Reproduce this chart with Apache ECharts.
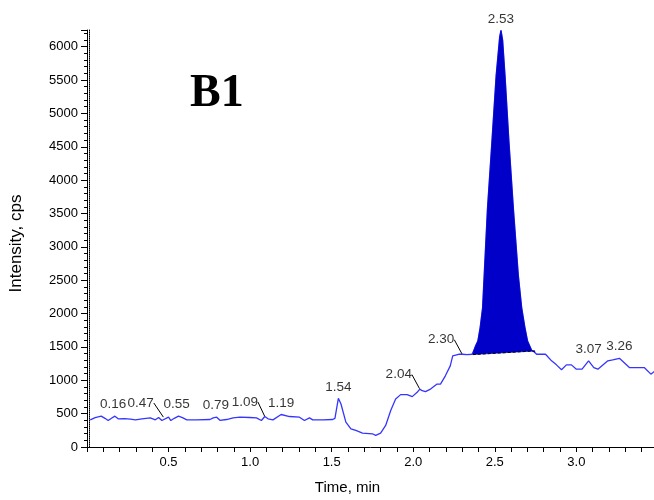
<!DOCTYPE html>
<html>
<head>
<meta charset="utf-8">
<script src="https://cdn.jsdelivr.net/npm/echarts@6/dist/echarts.min.js"></script>
<style>
html,body{margin:0;padding:0;background:#fff;}
#chart{width:654px;height:500px;}
</style>
</head>
<body>
<div id="chart"></div>
<script>
// ---- data ----
const traceTime = [
  0.02, 0.05, 0.087, 0.11, 0.13, 0.15, 0.171, 0.191, 0.23, 0.266, 0.297, 0.337, 0.388, 0.419, 0.439, 0.459,
  0.50, 0.514, 0.535, 0.561, 0.585, 0.612, 0.673, 0.683, 0.754, 0.774, 0.795, 0.815, 0.825, 0.855, 0.896,
  0.937, 0.998, 1.039, 1.069, 1.09, 1.11, 1.14, 1.19, 1.242, 1.303, 1.333, 1.364, 1.384, 1.445, 1.506,
  1.52, 1.541, 1.557, 1.587, 1.618, 1.648, 1.689, 1.75, 1.77, 1.80, 1.831, 1.862, 1.892, 1.923, 1.963,
  1.994, 2.024, 2.04, 2.055, 2.075, 2.106, 2.146, 2.167, 2.197, 2.227, 2.242, 2.278, 2.30, 2.33, 2.36,
  2.37, 2.383, 2.396, 2.41, 2.425, 2.435, 2.455, 2.482, 2.508, 2.53, 2.538, 2.548, 2.563, 2.587, 2.614,
  2.644, 2.665, 2.685, 2.701, 2.726, 2.744, 2.756, 2.811, 2.848, 2.878, 2.909, 2.939, 2.97, 3.0, 3.035,
  3.075, 3.107, 3.132, 3.193, 3.223, 3.264, 3.325, 3.416, 3.457, 3.478
];
const traceIntensity = [
  407, 440, 462, 430, 397, 430, 462, 422, 425, 417, 407, 422, 437, 407, 442, 397,
  447, 397, 430, 462, 440, 407, 407, 412, 412, 437, 447, 400, 387, 412, 437,
  447, 442, 437, 397, 457, 422, 407, 487, 457, 447, 397, 437, 407, 407, 412,
  430, 730, 645, 372, 273, 248, 208, 198, 174, 208, 323, 546, 720, 785, 785,
  755, 819, 868, 844, 829, 868, 943, 943, 1067, 1216, 1365, 1390, 1390, 1385, 1390,
  1439, 1520, 1588, 1787, 2084, 2580, 3573, 4566, 5558, 6150, 6243, 6100, 5558, 4566, 3573,
  2580, 2084, 1787, 1588, 1449, 1420, 1390, 1390, 1291, 1231, 1157, 1231, 1231, 1166, 1166,
  1291, 1191, 1166, 1291, 1306, 1330, 1191, 1191, 1092, 1132
];
// integration baseline of the 2.53 peak
const baselineTime = [2.365, 2.745];
const baselineIntensity = [1385, 1440];
// peak annotations
const peakLabels = ['0.16', '0.47', '0.55', '0.79', '1.09', '1.19', '1.54', '2.04', '2.30', '2.53', '3.07', '3.26'];
const peakLabelTime = [0.16, 0.47, 0.55, 0.79, 1.09, 1.19, 1.541, 2.04, 2.30, 2.538, 3.075, 3.264];
const peakLabelIntensity = [462, 442, 462, 447, 457, 487, 730, 868, 1390, 6243, 1291, 1330];

// ---- styling ----
const labelShift = { '0.47': [-23, -3], '1.09': [-20, -3], '2.04': [-21, -3], '2.30': [-21, -3] };
const FONT = '"Liberation Sans", Arial, sans-serif';

const traceData = traceTime.map((t, i) => [t, traceIntensity[i]]);
const peakPts = [[baselineTime[0], baselineIntensity[0]]]
  .concat(traceData.filter(p => p[0] > baselineTime[0] && p[0] < baselineTime[baselineTime.length - 1]))
  .concat([[baselineTime[baselineTime.length - 1], baselineIntensity[baselineIntensity.length - 1]]]);

const chart = echarts.init(document.getElementById('chart'), null, { renderer: 'canvas' });
chart.setOption({
  animation: false,
  backgroundColor: '#ffffff',
  grid: { left: 84, right: 0, top: 30, bottom: 50, containLabel: false },
  xAxis: {
    type: 'value', min: 0, max: 3.476, interval: 0.5,
    name: 'Time, min', nameLocation: 'middle', nameGap: 33,
    nameTextStyle: { fontFamily: FONT, fontSize: 15, color: '#000', padding: [0, 46, 0, 0] },
    axisLine: { show: true, onZero: false, lineStyle: { color: '#000', width: 1 } },
    axisTick: { show: true, length: 5, lineStyle: { color: '#000' } },
    minorTick: { show: true, splitNumber: 5, length: 5, lineStyle: { color: '#000' } },
    axisLabel: { fontFamily: FONT, fontSize: 13, color: '#000', margin: 9, showMinLabel: false, showMaxLabel: false,
      formatter: v => v.toFixed(1) },
    splitLine: { show: false }
  },
  yAxis: [{
    type: 'value', min: 0, max: 6250, interval: 500,
    name: 'Intensity, cps', nameLocation: 'middle', nameGap: 62,
    nameTextStyle: { fontFamily: FONT, fontSize: 17, color: '#000', padding: [0, 10, 0, 0] },
    axisLine: { show: true, lineStyle: { color: '#000', width: 1 } },
    axisTick: { show: true, length: 6, lineStyle: { color: '#000' } },
    minorTick: { show: true, splitNumber: 5, length: 3, lineStyle: { color: '#000' } },
    axisLabel: { fontFamily: FONT, fontSize: 13, color: '#000', margin: 9, showMaxLabel: false,
      formatter: v => String(v) },
    splitLine: { show: false }
  }, {
    type: 'value', min: 0, max: 6250, position: 'left', offset: -2,
    axisLine: { show: true, lineStyle: { color: '#000', width: 1, type: [1, 1] } },
    axisTick: { show: false }, axisLabel: { show: false }, splitLine: { show: false }
  }],
  series: [
    {
      type: 'line', data: traceData, showSymbol: false, symbol: 'none', z: 2,
      lineStyle: { color: '#3535ff', width: 1.3 }, silent: true
    },
    {
      type: 'custom', coordinateSystem: 'cartesian2d', data: [[2.5, 3000]], z: 3, silent: true,
      renderItem: (params, api) => ({
        type: 'polygon',
        shape: { points: peakPts.map(p => api.coord(p)) },
        style: { fill: '#0000c8', stroke: '#0000c8', lineWidth: 0.6 }
      })
    },
    {
      type: 'line', data: baselineTime.map((t, i) => [t, baselineIntensity[i]]), symbol: 'none', z: 4, silent: true,
      lineStyle: { color: '#000', width: 1, type: [3, 2] }
    },
    {
      type: 'scatter', z: 5, silent: true, symbolSize: 1, itemStyle: { color: 'rgba(0,0,0,0)' },
      data: peakLabelTime.map((t, i) => ({
        value: [t, peakLabelIntensity[i]], name: peakLabels[i],
        labelLine: { show: !!labelShift[peakLabels[i]] }
      })),
      label: { show: true, position: 'top', distance: 4, formatter: p => p.name,
        fontFamily: FONT, fontSize: 13.5, color: '#000' },
      labelLayout: params => {
        const s = labelShift[peakLabels[params.dataIndex]];
        return s ? { dx: s[0], dy: s[1] } : {};
      },
      labelLine: { show: false, lineStyle: { color: '#000', width: 1 } }
    }
  ],
  graphic: [{
    type: 'text', left: 190, top: 71,
    style: { text: 'B1', font: 'bold 46px "Liberation Serif", "Times New Roman", serif', fill: '#000' }
  }]
});
</script>
</body>
</html>
